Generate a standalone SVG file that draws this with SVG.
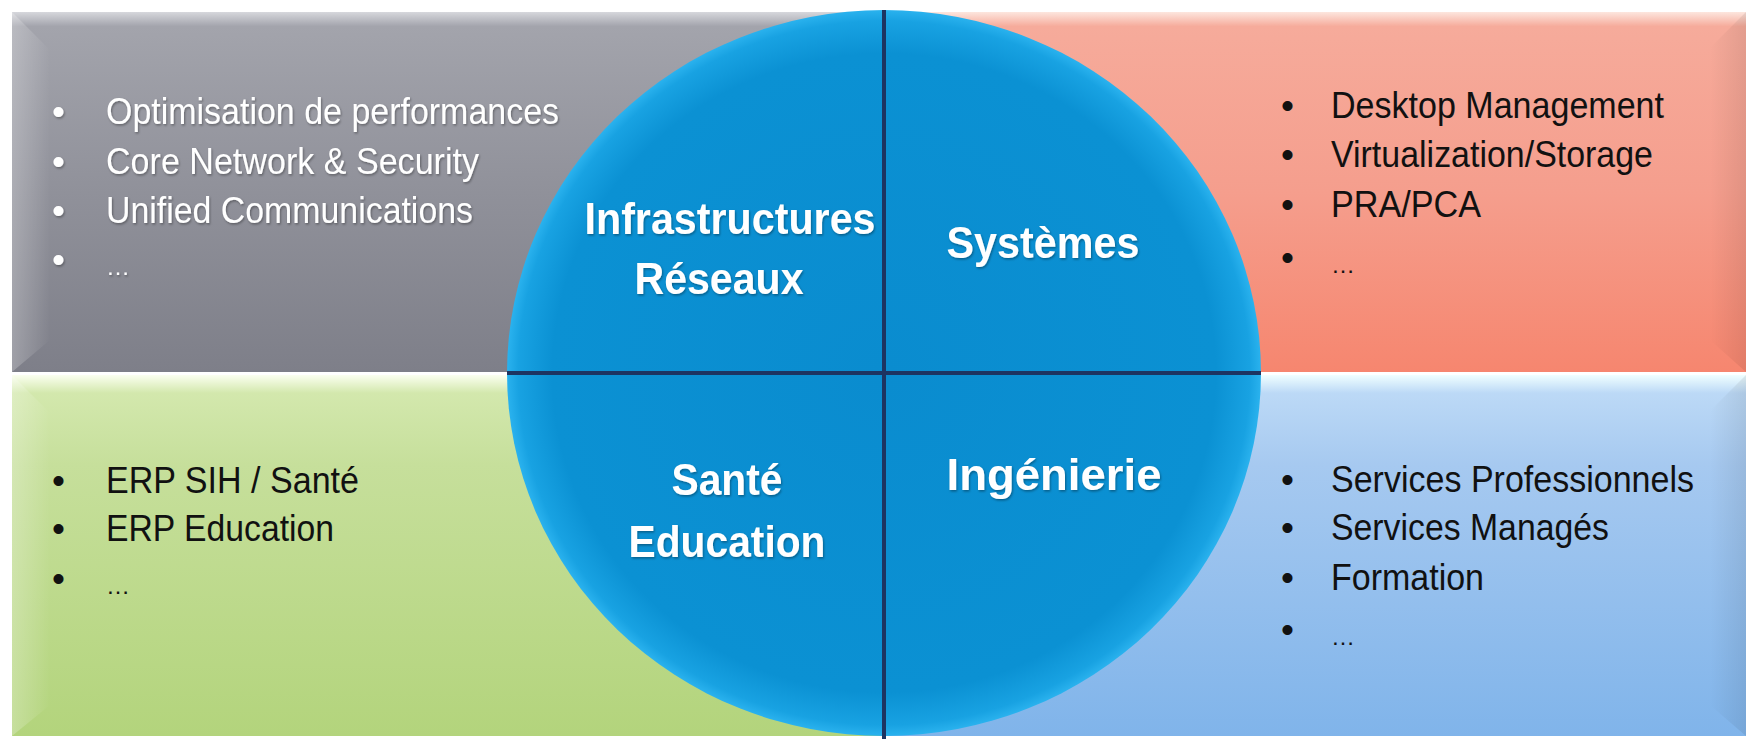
<svg xmlns="http://www.w3.org/2000/svg" width="1746" height="739" viewBox="0 0 1746 739">
  <defs>
    <linearGradient id="gGray" x1="0" y1="0" x2="0" y2="1">
      <stop offset="0" stop-color="#d6d7dc"/>
      <stop offset="0.04" stop-color="#a3a4ac"/>
      <stop offset="0.5" stop-color="#90919a"/>
      <stop offset="1" stop-color="#7e7f89"/>
    </linearGradient>
    <linearGradient id="gSalmon" x1="0" y1="0" x2="0" y2="1">
      <stop offset="0" stop-color="#fde6de"/>
      <stop offset="0.04" stop-color="#f6ab9b"/>
      <stop offset="0.5" stop-color="#f59e8d"/>
      <stop offset="1" stop-color="#f6866f"/>
    </linearGradient>
    <linearGradient id="gGreen" x1="0" y1="0" x2="0" y2="1">
      <stop offset="0" stop-color="#fbfff0"/>
      <stop offset="0.05" stop-color="#d3e8ad"/>
      <stop offset="0.25" stop-color="#c6df9b"/>
      <stop offset="1" stop-color="#b3d47c"/>
    </linearGradient>
    <linearGradient id="gBlue" x1="0" y1="0" x2="0" y2="1">
      <stop offset="0" stop-color="#f0ffff"/>
      <stop offset="0.05" stop-color="#bcd9f6"/>
      <stop offset="0.25" stop-color="#a6c9f0"/>
      <stop offset="1" stop-color="#80b4ea"/>
    </linearGradient>
    <linearGradient id="gLeftBevel" x1="0" y1="0" x2="1" y2="0">
      <stop offset="0" stop-color="#ffffff" stop-opacity="0.25"/>
      <stop offset="1" stop-color="#ffffff" stop-opacity="0"/>
    </linearGradient>
    <linearGradient id="gRightBevel" x1="0" y1="0" x2="1" y2="0">
      <stop offset="0" stop-color="#000000" stop-opacity="0"/>
      <stop offset="1" stop-color="#000000" stop-opacity="0.08"/>
    </linearGradient>
    <radialGradient id="gCircle" cx="0.5" cy="0.5" r="0.5">
      <stop offset="0" stop-color="#0a8ccf"/>
      <stop offset="0.88" stop-color="#0b91d3"/>
      <stop offset="0.97" stop-color="#18a2e2"/>
      <stop offset="1" stop-color="#2ab2ee"/>
    </radialGradient>
    <filter id="shadow" x="-5%" y="-20%" width="110%" height="140%">
      <feDropShadow dx="1" dy="1.5" stdDeviation="1" flood-color="#000000" flood-opacity="0.35"/>
    </filter>
  </defs>
  <style>
    .item { font-family: "Liberation Sans", Arial, sans-serif; font-size: 37px; }
    .dots { font-size: 24px; }
    .light { fill: #ffffff; }
    .dark { fill: #111111; }
    .label { font-family: "Liberation Sans", Arial, sans-serif; font-size: 45px; font-weight: bold; fill: #ffffff; text-anchor: middle; }
    .divider { stroke: #1d3461; stroke-width: 4; fill: none; }
  </style>

  <rect x="0" y="0" width="1746" height="739" fill="#ffffff"/>

  <g id="box-infrastructures">
    <rect x="12" y="12" width="872" height="360" fill="url(#gGray)"/>
    <polygon points="12,12 50,50 50,340 12,372" fill="url(#gLeftBevel)"/>
    <text class="item light" filter="url(#shadow)"><tspan x="52" y="124">•</tspan><tspan x="106" y="124" textLength="453" lengthAdjust="spacingAndGlyphs">Optimisation de performances</tspan></text>
    <text class="item light" filter="url(#shadow)"><tspan x="52" y="174">•</tspan><tspan x="106" y="174" textLength="373" lengthAdjust="spacingAndGlyphs">Core Network &amp; Security</tspan></text>
    <text class="item light" filter="url(#shadow)"><tspan x="52" y="223">•</tspan><tspan x="106" y="223" textLength="367" lengthAdjust="spacingAndGlyphs">Unified Communications</tspan></text>
    <text class="item light" filter="url(#shadow)"><tspan x="52" y="272">•</tspan><tspan class="dots" x="106" y="275">…</tspan></text>
  </g>

  <g id="box-systemes">
    <rect x="884" y="12" width="862" height="360" fill="url(#gSalmon)"/>
    <polygon points="1746,12 1710,48 1710,340 1746,372" fill="url(#gRightBevel)"/>
    <text class="item dark"><tspan x="1281" y="118">•</tspan><tspan x="1331" y="118" textLength="333" lengthAdjust="spacingAndGlyphs">Desktop Management</tspan></text>
    <text class="item dark"><tspan x="1281" y="167">•</tspan><tspan x="1331" y="167" textLength="322" lengthAdjust="spacingAndGlyphs">Virtualization/Storage</tspan></text>
    <text class="item dark"><tspan x="1281" y="217">•</tspan><tspan x="1331" y="217" textLength="150" lengthAdjust="spacingAndGlyphs">PRA/PCA</tspan></text>
    <text class="item dark"><tspan x="1281" y="270">•</tspan><tspan class="dots" x="1331" y="273">…</tspan></text>
  </g>

  <g id="box-sante">
    <rect x="12" y="375" width="872" height="361" fill="url(#gGreen)"/>
    <polygon points="12,375 50,413 50,705 12,736" fill="url(#gLeftBevel)"/>
    <text class="item dark"><tspan x="52" y="493">•</tspan><tspan x="106" y="493" textLength="253" lengthAdjust="spacingAndGlyphs">ERP SIH / Santé</tspan></text>
    <text class="item dark"><tspan x="52" y="541">•</tspan><tspan x="106" y="541" textLength="228" lengthAdjust="spacingAndGlyphs">ERP Education</tspan></text>
    <text class="item dark"><tspan x="52" y="591">•</tspan><tspan class="dots" x="106" y="594">…</tspan></text>
  </g>

  <g id="box-ingenierie">
    <rect x="884" y="375" width="862" height="361" fill="url(#gBlue)"/>
    <polygon points="1746,375 1710,411 1710,705 1746,736" fill="url(#gRightBevel)"/>
    <text class="item dark"><tspan x="1281" y="492">•</tspan><tspan x="1331" y="492" textLength="363" lengthAdjust="spacingAndGlyphs">Services Professionnels</tspan></text>
    <text class="item dark"><tspan x="1281" y="540">•</tspan><tspan x="1331" y="540" textLength="278" lengthAdjust="spacingAndGlyphs">Services Managés</tspan></text>
    <text class="item dark"><tspan x="1281" y="590">•</tspan><tspan x="1331" y="590" textLength="153" lengthAdjust="spacingAndGlyphs">Formation</tspan></text>
    <text class="item dark"><tspan x="1281" y="642">•</tspan><tspan class="dots" x="1331" y="645">…</tspan></text>
  </g>

  <g id="circle">
    <ellipse cx="884" cy="373" rx="377" ry="363" fill="url(#gCircle)"/>
  </g>

  <g id="dividers">
    <line class="divider" x1="884" y1="10" x2="884" y2="739"/>
    <line class="divider" x1="507" y1="373" x2="1261" y2="373"/>
  </g>

  <g id="quadrant-infrastructures-reseaux">
    <text class="label" filter="url(#shadow)" x="730" y="234" textLength="291" lengthAdjust="spacingAndGlyphs">Infrastructures</text>
    <text class="label" filter="url(#shadow)" x="719" y="294" textLength="169" lengthAdjust="spacingAndGlyphs">Réseaux</text>
  </g>
  <g id="quadrant-systemes">
    <text class="label" filter="url(#shadow)" x="1043" y="258" textLength="193" lengthAdjust="spacingAndGlyphs">Systèmes</text>
  </g>
  <g id="quadrant-sante-education">
    <text class="label" filter="url(#shadow)" x="727" y="495" textLength="111" lengthAdjust="spacingAndGlyphs">Santé</text>
    <text class="label" filter="url(#shadow)" x="727" y="557" textLength="197" lengthAdjust="spacingAndGlyphs">Education</text>
  </g>
  <g id="quadrant-ingenierie">
    <text class="label" filter="url(#shadow)" x="1054" y="490" textLength="215" lengthAdjust="spacingAndGlyphs">Ingénierie</text>
  </g>
</svg>
